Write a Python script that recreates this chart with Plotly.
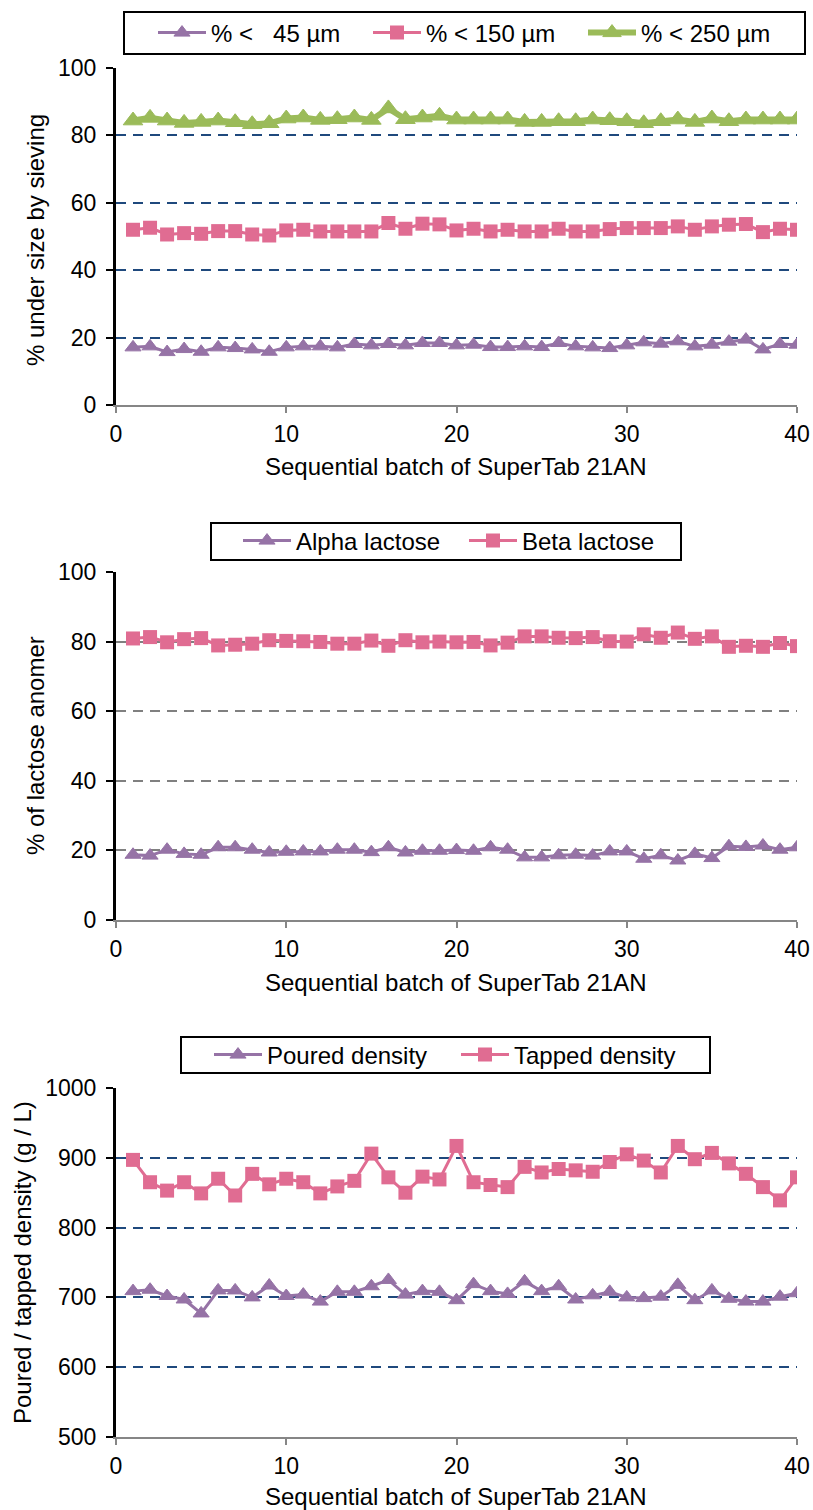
import plotly.graph_objects as go

batch = list(range(1, 41))

# Panel 1: sieve fractions (%)
under_45 = [17.1, 17.4, 15.7, 16.6, 15.8, 17.1, 16.9, 16.5, 15.8, 17.1,
            17.4, 17.4, 17.1, 18.1, 17.7, 18.1, 17.7, 18.4, 18.4, 17.7,
            17.9, 17.2, 17.2, 17.4, 17.2, 18.4, 17.4, 17.1, 16.9, 17.7,
            18.6, 18.2, 18.9, 17.4, 17.9, 18.8, 19.4, 16.5, 18.1, 17.9]
under_150 = [52.0, 52.6, 50.6, 51.0, 50.8, 51.6, 51.6, 50.6, 50.3, 51.8,
             52.0, 51.5, 51.5, 51.5, 51.5, 54.0, 52.3, 53.8, 53.6, 51.8,
             52.3, 51.5, 52.0, 51.5, 51.5, 52.3, 51.5, 51.5, 52.2, 52.5,
             52.5, 52.5, 53.0, 52.0, 53.0, 53.5, 53.7, 51.3, 52.3, 52.0]
under_250 = [84.4, 85.2, 84.4, 83.7, 84.0, 84.4, 83.9, 83.3, 83.6, 85.0,
             85.3, 84.6, 84.8, 85.3, 84.6, 88.0, 84.8, 85.3, 85.8, 84.7,
             84.7, 84.7, 84.7, 84.0, 84.0, 84.2, 84.2, 84.7, 84.5, 84.2,
             83.6, 84.2, 84.7, 84.0, 85.0, 84.2, 84.7, 84.7, 84.7, 84.7]

# Panel 2: lactose anomers (%)
alpha = [18.75, 18.5, 20.2, 19.0, 18.75, 20.9, 20.9, 20.2, 19.4, 19.6,
         19.7, 19.7, 20.2, 20.2, 19.5, 20.9, 19.4, 19.9, 19.9, 20.1,
         19.9, 20.9, 20.2, 18.0, 18.0, 18.6, 18.75, 18.5, 19.7, 19.7,
         17.6, 18.6, 17.1, 19.0, 17.8, 21.2, 21.0, 21.4, 20.2, 20.9]
beta = [80.9, 81.3, 79.8, 80.7, 81.0, 78.9, 79.1, 79.4, 80.4, 80.2,
        80.1, 79.9, 79.4, 79.4, 80.3, 78.8, 80.4, 79.8, 80.0, 79.8,
        79.9, 78.9, 79.7, 81.5, 81.5, 81.1, 81.0, 81.3, 80.1, 80.0,
        82.1, 81.1, 82.6, 80.8, 81.5, 78.5, 78.8, 78.5, 79.6, 78.7]

# Panel 3: densities (g/L)
poured = [709, 711, 702, 697, 677, 710, 710, 700, 717, 702,
          704, 694, 708, 708, 716, 725, 704, 709, 708, 696,
          719, 709, 705, 723, 709, 716, 697, 703, 708, 700,
          699, 701, 718, 696, 710, 698, 694, 694, 701, 706]
tapped = [897, 865, 853, 865, 849, 870, 846, 877, 862, 870,
          865, 849, 859, 867, 906, 872, 850, 873, 869, 917,
          865, 861, 858, 887, 879, 884, 882, 880, 894, 905,
          896, 879, 917, 898, 907, 892, 877, 858, 839, 872]

x_title = "Sequential batch of SuperTab 21AN"
y_titles = ["% under size by sieving", "% of lactose anomer", "Poured / tapped density (g / L)"]

PURPLE = "#9673A6"
PINK = "#E06C92"
GREEN = "#9BBB59"
FONT = "Liberation Sans, Arial, sans-serif"
W, H = 813, 1510

fig = go.Figure()

def tri(y, name, color, legend, xa, ya, size=14, lw=3):
    return go.Scatter(x=batch, y=y, name=name, mode="lines+markers",
                      line=dict(color=color, width=lw),
                      marker=dict(symbol="triangle-up", size=size, color=color,
                                  line=dict(width=1, color=color)),
                      legend=legend, xaxis=xa, yaxis=ya)

def sq(y, name, legend, xa, ya):
    return go.Scatter(x=batch, y=y, name=name, mode="lines+markers",
                      line=dict(color=PINK, width=3),
                      marker=dict(symbol="square", size=14, color=PINK),
                      legend=legend, xaxis=xa, yaxis=ya)

fig.add_trace(tri(under_45, "% <\u00a0\u00a0\u00a045 µm", PURPLE, "legend", "x", "y"))
fig.add_trace(sq(under_150, "% < 150 µm", "legend", "x", "y"))
fig.add_trace(tri(under_250, "% < 250 µm", GREEN, "legend", "x", "y", size=17, lw=6))
fig.add_trace(tri(alpha, "Alpha lactose", PURPLE, "legend2", "x2", "y2"))
fig.add_trace(sq(beta, "Beta lactose", "legend2", "x2", "y2"))
fig.add_trace(tri(poured, "Poured density", PURPLE, "legend3", "x3", "y3"))
fig.add_trace(sq(tapped, "Tapped density", "legend3", "x3", "y3"))

def py(px):
    return 1 - px / H

def px_(x):
    return x / W

xdom = [px_(116), px_(797)]
panels = [(68, 405), (572, 920), (1088, 1437)]
yranges = [[0, 100], [0, 100], [500, 1000]]
dticks = [20, 20, 100]
gridcols = ["#1F497D", "#808080", "#1F497D"]

tickfont = dict(family=FONT, size=23, color="black")
for i, ((top, bot), yr, dt, gc) in enumerate(zip(panels, yranges, dticks, gridcols)):
    sfx = "" if i == 0 else str(i + 1)
    fig.update_layout(**{
        "xaxis" + sfx: dict(domain=xdom, range=[0, 40], dtick=10, tick0=0,
                            showline=True, linecolor="#868686", linewidth=2,
                            ticks="outside", ticklen=6, tickwidth=2, tickcolor="#868686",
                            showgrid=False, zeroline=False, tickfont=tickfont,
                            ticklabelstandoff=1,
                            anchor="y" + sfx, automargin=False),
        "yaxis" + sfx: dict(domain=[py(bot), py(top)], range=yr, dtick=dt,
                            showline=True, linecolor="black", linewidth=3,
                            ticks="outside", ticklen=7, tickwidth=2, tickcolor="black",
                            showgrid=True, gridcolor=gc, gridwidth=2, griddash="10px,7px",
                            zeroline=False, tickfont=tickfont, ticklabelstandoff=5,
                            anchor="x" + sfx, automargin=False),
    })

titlefont = dict(family=FONT, size=24, color="black")
ann = []
for yc in [467, 983, 1496]:
    ann.append(dict(text=x_title, x=px_(456), y=py(yc),
                    xref="paper", yref="paper", showarrow=False, font=titlefont,
                    xanchor="center", yanchor="middle"))
for txt, xc, yc in zip(y_titles, [35, 35, 22], [240, 746, 1263]):
    ann.append(dict(text=txt, x=px_(xc), y=py(yc), xref="paper", yref="paper",
                    showarrow=False, font=titlefont, textangle=-90,
                    xanchor="center", yanchor="middle"))

# legend frames (drawn as shapes so their size matches the reference)
boxes = [(124, 12, 805, 54), (211, 523, 681, 560), (181, 1037, 710, 1073)]
shapes = [dict(type="rect", xref="paper", yref="paper",
               x0=px_(x0), x1=px_(x1), y0=py(y1), y1=py(y0),
               line=dict(color="black", width=2), fillcolor="rgba(0,0,0,0)", layer="above")
          for (x0, y0, x1, y1) in boxes]

legfont = dict(family=FONT, size=24, color="black")
def leg(xl, yc, ew):
    return dict(x=px_(xl), y=py(yc), xanchor="left", yanchor="middle",
                orientation="h", borderwidth=0, entrywidth=ew,
                bgcolor="rgba(0,0,0,0)", font=legfont, itemwidth=48)

fig.update_layout(
    width=W, height=H, margin=dict(l=0, r=0, t=0, b=0),
    paper_bgcolor="white", plot_bgcolor="white",
    font=dict(family=FONT, color="black"),
    showlegend=True,
    legend=leg(153, 33, 152), legend2=leg(238, 541, 163), legend3=leg(209, 1055, 184),
    annotations=ann, shapes=shapes,
)

fig.write_html("out.html", config={"displayModeBar": False},
               post_script="document.body.style.margin='0';document.body.style.overflow='hidden';")
